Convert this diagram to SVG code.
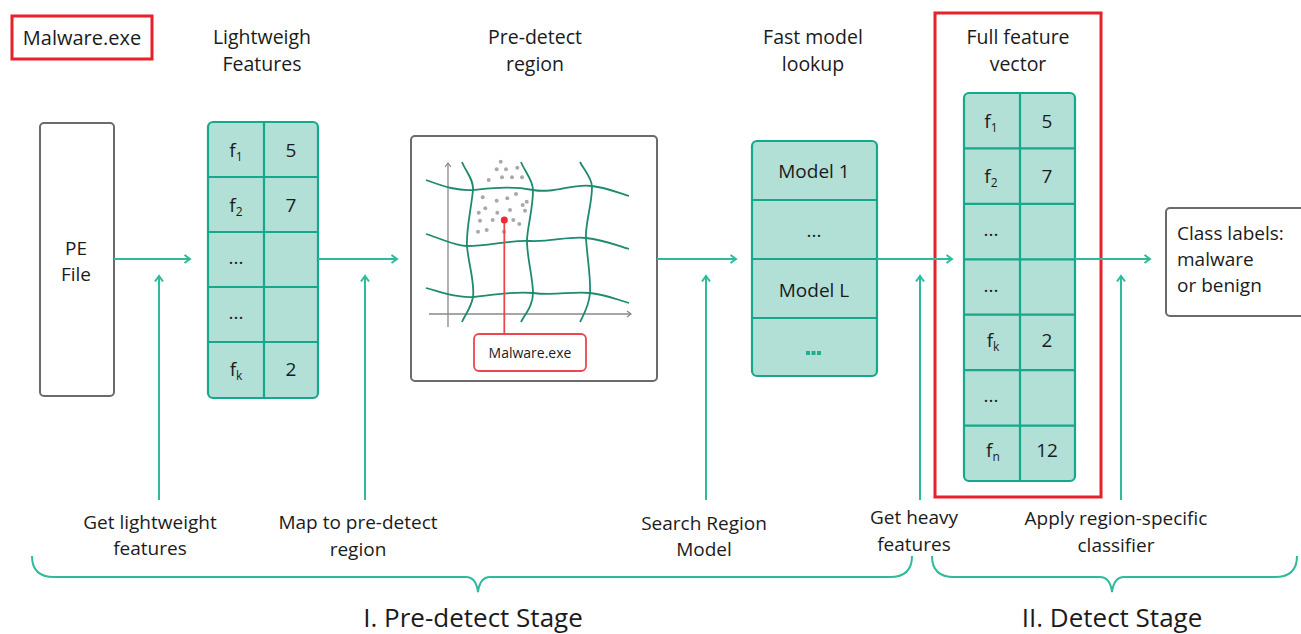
<svg xmlns="http://www.w3.org/2000/svg" width="1301" height="634" viewBox="0 0 1301 634">
<defs>
<marker id="ah" markerWidth="10" markerHeight="10" refX="7" refY="5" orient="auto" markerUnits="userSpaceOnUse">
<path d="M1.5,1 L7,5 L1.5,9" fill="none" stroke="#2dbb9b" stroke-width="2"/>
</marker>
<marker id="gah" markerWidth="8" markerHeight="8" refX="5" refY="4" orient="auto" markerUnits="userSpaceOnUse">
<path d="M1,1 L5,4 L1,7" fill="none" stroke="#888" stroke-width="1.2"/>
</marker>
</defs>
<style>
text{font-family:"Open Sans","Noto Sans","Liberation Sans",sans-serif;fill:#1b1b1b;}
.lbl{font-size:19px;text-anchor:middle;}
.hd{font-size:19.5px;text-anchor:middle;}
.cell{font-size:19px;text-anchor:middle;}
.sub{font-size:12px;}
.tbl{fill:#b2dfd6;stroke:#16a88a;stroke-width:2.2;}
.grid{stroke:#16a88a;stroke-width:2.2;fill:none;}
.conn{stroke:#2dbb9b;stroke-width:2;fill:none;}
.red{fill:none;stroke:#e8202a;stroke-width:3;}
.box{fill:#fff;stroke:#6b6b6b;stroke-width:2;}
.wave{fill:none;stroke:#1e8a6f;stroke-width:1.8;}
.dot{fill:#a9a9a9;}
.stage{font-size:26px;text-anchor:middle;}
</style>

<g id="title-malware">
<rect class="red" x="12" y="16" width="140" height="43"/>
<text x="82" y="45" style="font-size:20px;text-anchor:middle">Malware.exe</text>
</g>

<g id="headers">
<text class="hd" x="262" y="44">Lightweigh</text>
<text class="hd" x="262" y="71">Features</text>
<text class="hd" x="535" y="44">Pre-detect</text>
<text class="hd" x="535" y="71">region</text>
<text class="hd" x="813" y="44">Fast model</text>
<text class="hd" x="813" y="71">lookup</text>
<text class="hd" x="1018" y="44">Full feature</text>
<text class="hd" x="1018" y="71">vector</text>
</g>

<g id="pe-file">
<rect class="box" x="40" y="123" width="74" height="273" rx="4"/>
<text class="lbl" x="76" y="255">PE</text>
<text class="lbl" x="76" y="281">File</text>
</g>

<g id="lightweight-table">
<rect class="tbl" x="208" y="122" width="110" height="276" rx="5"/>
<path class="grid" d="M264,122 V398 M208,177 H318 M208,232 H318 M208,287 H318 M208,342 H318"/>
<text class="cell" x="236" y="157">f<tspan class="sub" dy="4">1</tspan></text>
<text class="cell" x="291" y="157">5</text>
<text class="cell" x="236" y="212">f<tspan class="sub" dy="4">2</tspan></text>
<text class="cell" x="291" y="212">7</text>
<text class="cell" x="236" y="264">...</text>
<text class="cell" x="236" y="319">...</text>
<text class="cell" x="236" y="376">f<tspan class="sub" dy="4">k</tspan></text>
<text class="cell" x="291" y="376">2</text>
</g>

<g id="predetect-region">
<rect class="box" x="411" y="136" width="246" height="245" rx="4"/>
<line x1="448" y1="327" x2="448" y2="163" stroke="#888" stroke-width="1.3" marker-end="url(#gah)"/>
<line x1="429" y1="314" x2="631" y2="314" stroke="#888" stroke-width="1.3" marker-end="url(#gah)"/>
<path class="wave" d="M426,180 C445,187 458,191 473,190 C495,188 512,186 533,190 C555,194 572,183 592,186 C608,188 618,193 629,196"/>
<path class="wave" d="M426,234 C445,240 455,246 467,246 C490,246 508,240 530,241 C552,242 568,236 586,238 C605,240 618,246 629,249"/>
<path class="wave" d="M426,288 C445,293 458,298 473,297 C495,295 512,291 533,293 C555,296 572,291 590,293 C608,295 618,300 629,303"/>
<path class="wave" d="M462,162 C466,172 474,180 473,190 C471,210 466,230 467,246 C468,262 475,282 473,297 C471,308 465,315 462,322"/>
<path class="wave" d="M521,162 C525,172 533,180 533,190 C533,210 527,228 527,241 C527,258 533,278 533,293 C533,306 525,314 521,322"/>
<path class="wave" d="M580,162 C584,170 592,178 592,187 C592,205 585,224 586,238 C587,256 591,278 590,293 C589,306 584,314 580,322"/>
<g class="dots">
<circle class="dot" cx="500.7" cy="161.7" r="2"/>
<circle class="dot" cx="496.7" cy="169.3" r="2"/>
<circle class="dot" cx="506" cy="169.3" r="2"/>
<circle class="dot" cx="517.3" cy="167.7" r="2"/>
<circle class="dot" cx="488.7" cy="180" r="2"/>
<circle class="dot" cx="502" cy="177.3" r="2"/>
<circle class="dot" cx="512" cy="177.3" r="2"/>
<circle class="dot" cx="522" cy="177.3" r="2"/>
<circle class="dot" cx="482.7" cy="197.3" r="2"/>
<circle class="dot" cx="496.7" cy="200.7" r="2"/>
<circle class="dot" cx="507.3" cy="198.3" r="2"/>
<circle class="dot" cx="516" cy="194" r="2"/>
<circle class="dot" cx="526.7" cy="201.7" r="2"/>
<circle class="dot" cx="485.3" cy="208.3" r="2"/>
<circle class="dot" cx="497.3" cy="212.7" r="2"/>
<circle class="dot" cx="510" cy="210" r="2"/>
<circle class="dot" cx="522.7" cy="205" r="2"/>
<circle class="dot" cx="525" cy="210.7" r="2"/>
<circle class="dot" cx="478.7" cy="212.7" r="2"/>
<circle class="dot" cx="480" cy="220.7" r="2"/>
<circle class="dot" cx="492.7" cy="220" r="2"/>
<circle class="dot" cx="513.3" cy="220" r="2"/>
<circle class="dot" cx="519.3" cy="224" r="2"/>
<circle class="dot" cx="478" cy="231.7" r="2"/>
<circle class="dot" cx="486.7" cy="230" r="2"/>
<circle class="dot" cx="504" cy="231.7" r="2"/>
</g>
<line x1="504.3" y1="220" x2="504.3" y2="334" stroke="#ee4650" stroke-width="1.8"/>
<circle cx="504.3" cy="220" r="3.5" fill="#ee2a35"/>
<rect x="474" y="334" width="112" height="37" rx="5" fill="#fff" stroke="#ee4650" stroke-width="1.8"/>
<text x="530" y="358" style="font-size:14px;text-anchor:middle">Malware.exe</text>
</g>

<g id="model-lookup">
<rect class="tbl" x="752" y="141" width="125" height="235" rx="5"/>
<path class="grid" d="M752,200 H877 M752,259 H877 M752,318 H877"/>
<text class="cell" x="814" y="178">Model 1</text>
<text class="cell" x="814" y="237">...</text>
<text class="cell" x="814" y="297">Model L</text>
<rect x="806" y="351" width="4" height="4" fill="#22ad8d"/>
<rect x="811.5" y="351" width="4" height="4" fill="#22ad8d"/>
<rect x="817" y="351" width="4" height="4" fill="#22ad8d"/>
</g>

<g id="full-feature-vector">
<rect class="red" x="935" y="13" width="166" height="484"/>
<rect class="tbl" x="964" y="93" width="111" height="388" rx="5"/>
<path class="grid" d="M1020,93 V481 M964,148.4 H1075 M964,203.9 H1075 M964,259.3 H1075 M964,314.7 H1075 M964,370.1 H1075 M964,425.6 H1075"/>
<text class="cell" x="991" y="128">f<tspan class="sub" dy="4">1</tspan></text>
<text class="cell" x="1047" y="128">5</text>
<text class="cell" x="991" y="183">f<tspan class="sub" dy="4">2</tspan></text>
<text class="cell" x="1047" y="183">7</text>
<text class="cell" x="991" y="236">...</text>
<text class="cell" x="991" y="292">...</text>
<text class="cell" x="993" y="347">f<tspan class="sub" dy="4">k</tspan></text>
<text class="cell" x="1047" y="347">2</text>
<text class="cell" x="991" y="402">...</text>
<text class="cell" x="993" y="457">f<tspan class="sub" dy="4">n</tspan></text>
<text class="cell" x="1047" y="457">12</text>
</g>

<g id="class-labels">
<rect class="box" x="1166" y="208" width="145" height="108" rx="4"/>
<text x="1177" y="240" style="font-size:19px">Class labels:</text>
<text x="1177" y="266" style="font-size:19px">malware</text>
<text x="1177" y="292" style="font-size:19px">or benign</text>
</g>

<g id="connectors">
<line class="conn" x1="114" y1="259" x2="190" y2="259" marker-end="url(#ah)"/>
<line class="conn" x1="318" y1="259" x2="397" y2="259" marker-end="url(#ah)"/>
<line class="conn" x1="657" y1="259" x2="736" y2="259" marker-end="url(#ah)"/>
<line class="conn" x1="877" y1="259" x2="952" y2="259" marker-end="url(#ah)"/>
<line class="conn" x1="1075" y1="259" x2="1150" y2="259" marker-end="url(#ah)"/>
<line class="conn" x1="159" y1="500" x2="159" y2="276" marker-end="url(#ah)"/>
<line class="conn" x1="365" y1="500" x2="365" y2="276" marker-end="url(#ah)"/>
<line class="conn" x1="706" y1="500" x2="706" y2="276" marker-end="url(#ah)"/>
<line class="conn" x1="920" y1="500" x2="920" y2="276" marker-end="url(#ah)"/>
<line class="conn" x1="1121" y1="500" x2="1121" y2="276" marker-end="url(#ah)"/>
</g>

<g id="step-labels">
<text class="lbl" x="150" y="529">Get lightweight</text>
<text class="lbl" x="150" y="555">features</text>
<text class="lbl" x="358" y="529">Map to pre-detect</text>
<text class="lbl" x="358" y="556">region</text>
<text class="lbl" x="704" y="530">Search Region</text>
<text class="lbl" x="704" y="556">Model</text>
<text class="lbl" x="914" y="524">Get heavy</text>
<text class="lbl" x="914" y="551">features</text>
<text class="lbl" x="1116" y="525">Apply region-specific</text>
<text class="lbl" x="1116" y="552">classifier</text>
</g>

<g id="braces">
<path class="conn" d="M32,556 Q32,577 54,577 H466 Q476,577 478,592 Q480,577 490,577 H890 Q912,577 912,556"/>
<path class="conn" d="M932,556 Q932,577 954,577 H1100 Q1110,577 1112,592 Q1114,577 1124,577 H1275 Q1297,577 1297,556"/>
</g>

<g id="stages">
<text class="stage" x="473" y="627">I. Pre-detect Stage</text>
<text class="stage" x="1112" y="627">II. Detect Stage</text>
</g>
</svg>
